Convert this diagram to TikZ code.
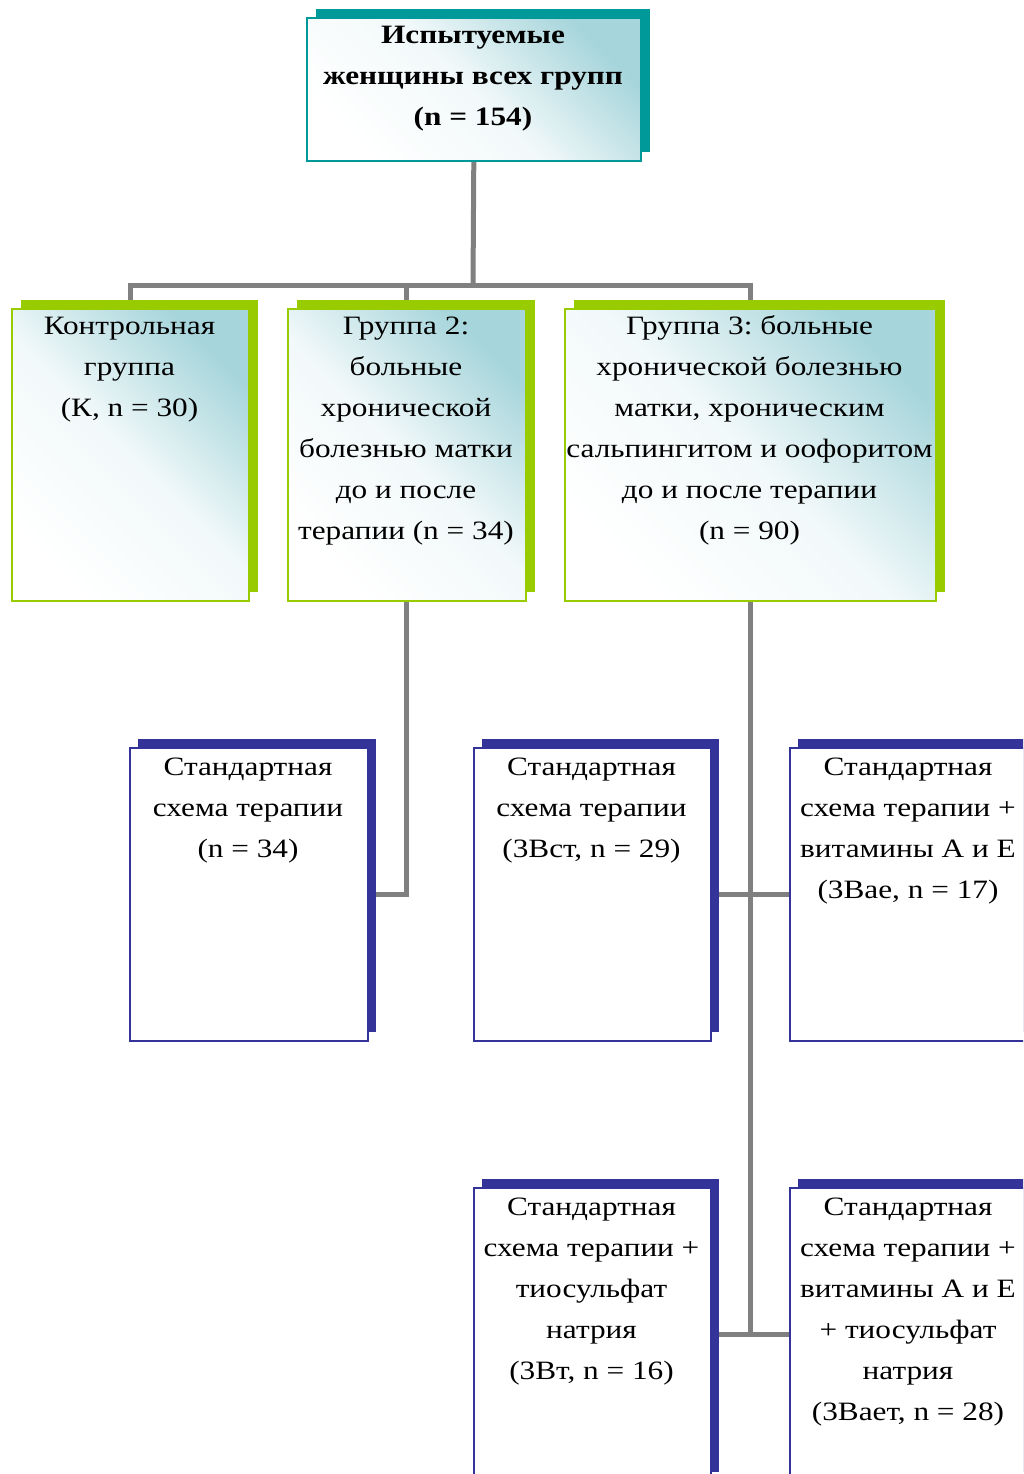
\documentclass[tikz,border=0pt]{standalone}
\usepackage{fontspec}
\setmainfont{Liberation Serif}[FakeStretch=1.18]
\usetikzlibrary{backgrounds}
\frenchspacing
\definecolor{tealsh}{RGB}{0,153,153}
\definecolor{greensh}{RGB}{153,204,0}
\definecolor{navysh}{RGB}{51,51,153}
\definecolor{conncol}{RGB}{128,128,128}
\definecolor{gradcol}{RGB}{166,213,219}
\begin{document}
\begin{tikzpicture}[x=1pt,y=1pt,
  box/.style={rectangle, draw, line width=1.6pt, inner sep=0pt, anchor=north west},
  gradbox/.style={box, top color=gradcol, bottom color=white, middle color=gradcol!15, shading angle=-45},
  tealbox/.style={gradbox, draw=tealsh, preaction={fill=tealsh, transform canvas={xshift=9pt,yshift=9pt}}},
  greenbox/.style={gradbox, draw=greensh, preaction={fill=greensh, transform canvas={xshift=9pt,yshift=9pt}}},
  navybox/.style={box, fill=white, draw=navysh, preaction={fill=navysh, transform canvas={xshift=8pt,yshift=9pt}}},
  txt/.style={inner sep=0pt, anchor=north, align=center, font=\frenchspacing\fontsize{26.5}{41}\selectfont},
  btxt/.style={txt, font=\frenchspacing\fontsize{26.5}{41}\selectfont\bfseries},
  connector/.style={draw=conncol, line width=5pt}
]
\clip (0,0) rectangle (1023,-1474);
\useasboundingbox (0,0) rectangle (1023,-1474);

% boxes
\node[tealbox, minimum width=334pt, minimum height=143pt] (b0) at (306,-17) {};
\node[greenbox, minimum width=237pt, minimum height=292pt] (k) at (11,-308) {};
\node[greenbox, minimum width=238pt, minimum height=292pt] (g2) at (287,-308) {};
\node[greenbox, minimum width=371pt, minimum height=292pt] (g3) at (564,-308) {};
\node[navybox, minimum width=238pt, minimum height=293pt] (s1) at (129,-747) {};
\node[navybox, minimum width=237pt, minimum height=293pt] (s2) at (473,-747) {};
\node[navybox, minimum width=238pt, minimum height=293pt] (s3) at (789,-747) {};
\node[navybox, minimum width=237pt, minimum height=293pt] (s4) at (473,-1187) {};
\node[navybox, minimum width=238pt, minimum height=293pt] (s5) at (789,-1187) {};

% texts
\node[btxt] (b0t) at (473,-15) {\strut Испытуемые\\женщины всех групп\\(n = 154)};
\node[txt] (kt) at (129.5,-306) {\strut Контрольная\\группа\\(К, n = 30)};
\node[txt] (g2t) at (406,-306) {\strut Группа 2:\\больные\\хронической\\болезнью матки\\до и после\\терапии (n = 34)};
\node[txt] (g3t) at (749.5,-306) {\strut Группа 3: больные\\хронической болезнью\\матки, хроническим\\сальпингитом и оофоритом\\до и после терапии\\(n = 90)};
\node[txt] (s1t) at (248,-747) {\strut Стандартная\\схема терапии\\(n = 34)};
\node[txt] (s2t) at (591.5,-747) {\strut Стандартная\\схема терапии\\(3Вст, n = 29)};
\node[txt] (s3t) at (908,-747) {\strut Стандартная\\схема терапии +\\витамины А и Е\\(3Вае, n = 17)};
\node[txt] (s4t) at (591.5,-1187) {\strut Стандартная\\схема терапии +\\тиосульфат\\натрия\\(3Вт, n = 16)};
\node[txt] (s5t) at (908,-1187) {\strut Стандартная\\схема терапии +\\витамины А и Е\\+ тиосульфат\\натрия\\(3Вает, n = 28)};

% connectors
\coordinate (j0) at (473,-285);
\begin{scope}[on background layer]
\draw[connector] (b0.south) -- (j0);
\draw[connector] (k.north) -- (k.north |- j0) -- (g3.north |- j0) -- (g3.north);
\draw[connector] (g2.north) -- (g2.north |- j0);
\draw[connector] (g2.south) |- (s1.east);
\draw[connector] (g3.south) -- (g3.south |- s4.east);
\draw[connector] (s2.east) -- (s3.west);
\draw[connector] (s4.east) -- (s5.west);
\end{scope}
\end{tikzpicture}
\end{document}
